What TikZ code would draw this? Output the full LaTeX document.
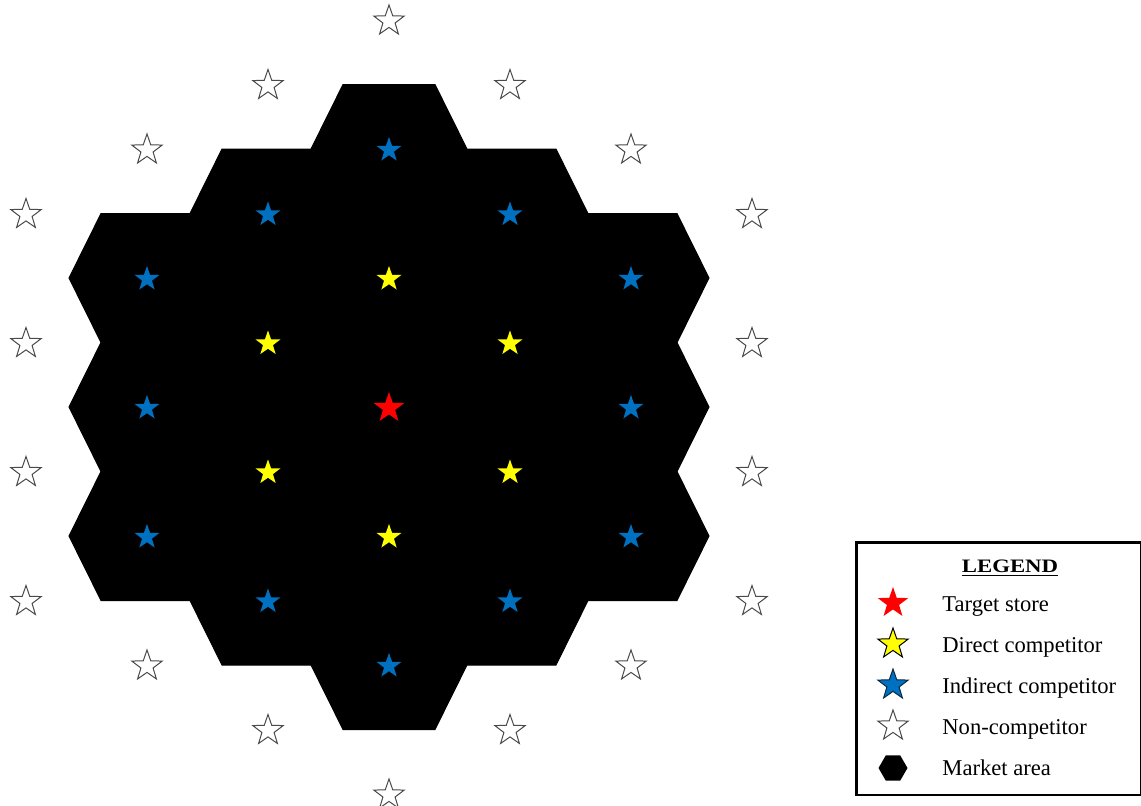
\documentclass[tikz,border=0pt]{standalone}
\usepackage{fontspec}
\setmainfont{Liberation Serif}
\newfontfamily\legendfont[FakeStretch=1.2]{Liberation Serif}
\usetikzlibrary{shapes.geometric}
\definecolor{OfficeBlue}{HTML}{0070C0}
\definecolor{StarYellow}{HTML}{FFFF00}
\definecolor{StarRed}{HTML}{FF0000}
\definecolor{Outline}{HTML}{4A4A4A}
\definecolor{BlueEdge}{HTML}{0A2A45}

\tikzset{
  store/.style={star,star points=5,star point ratio=2.5,inner sep=0pt},
  target/.style={store,fill=StarRed,minimum size=16pt},
  direct/.style={store,fill=StarYellow,minimum size=13pt},
  indirect/.style={store,fill=OfficeBlue,minimum size=13pt},
  noncomp/.style={store,fill=white,draw=Outline,line width=0.5pt,minimum size=16pt},
  keystar/.style={minimum size=16pt,line width=0.5pt},
  keytext/.style={anchor=base west,inner sep=0pt,font=\fontsize{11.3}{13}\selectfont},
}

\begin{document}
\begin{tikzpicture}[x=0.5pt,y=-0.5pt]
  \useasboundingbox (0,0) rectangle (1141,805);
  % market area: 19 hexagons
  \foreach \q in {-3,...,3}{
    \foreach \r in {-3,...,3}{
      \pgfmathtruncatemacro{\ring}{max(abs(\q),abs(\r),abs(\q+\r))}
      \pgfmathsetmacro{\cx}{389+121*\q}
      \pgfmathsetmacro{\cy}{407+64.5*\q+129*\r}
      \ifnum\ring<3
        \filldraw[line width=0.5pt] (\cx-78,\cy) -- (\cx-46,\cy-64.5) -- (\cx+46,\cy-64.5)
          -- (\cx+78,\cy) -- (\cx+46,\cy+64.5) -- (\cx-46,\cy+64.5) -- cycle;
      \fi
    }
  }
  % stores, by ring
  \foreach \q in {-3,...,3}{
    \foreach \r in {-3,...,3}{
      \pgfmathtruncatemacro{\ring}{max(abs(\q),abs(\r),abs(\q+\r))}
      \pgfmathsetmacro{\cx}{389+121*\q}
      \pgfmathsetmacro{\cy}{408+64.5*\q+129*\r}
      \ifnum\ring<4
        \ifcase\ring \def\kind{target}\or \def\kind{direct}\or \def\kind{indirect}\or \def\kind{noncomp}\fi
        \node[\kind] (st\q\r) at (\cx,\cy) {};
      \fi
    }
  }
  % legend
  \node[draw,line width=1.3pt,anchor=north west,minimum width=142.25pt,minimum height=126.25pt,inner sep=0pt] (legend) at (855,541) {};
  \node[anchor=base,font={\legendfont\fontsize{9.5}{11}\selectfont\bfseries}] (legendtitle) at (1010,572) {\underline{LEGEND}};
  \foreach \y/\kind/\edge/\txt in {603/target/none/Target store,
      644/direct/black/Direct competitor,
      685/indirect/BlueEdge/Indirect competitor,
      726/noncomp/Outline/Non-competitor}{
    \node[\kind,keystar,draw=\edge] (key-\kind) at (893,\y) {};
    \node[keytext] (label-\kind) at (942,\y+8.5) {\txt};
  }
  \node[regular polygon,regular polygon sides=6,fill=black,minimum size=14.5pt,inner sep=0pt] (key-market) at (893,768) {};
  \node[keytext] (label-market) at (942,775) {Market area};
\end{tikzpicture}
\end{document}
